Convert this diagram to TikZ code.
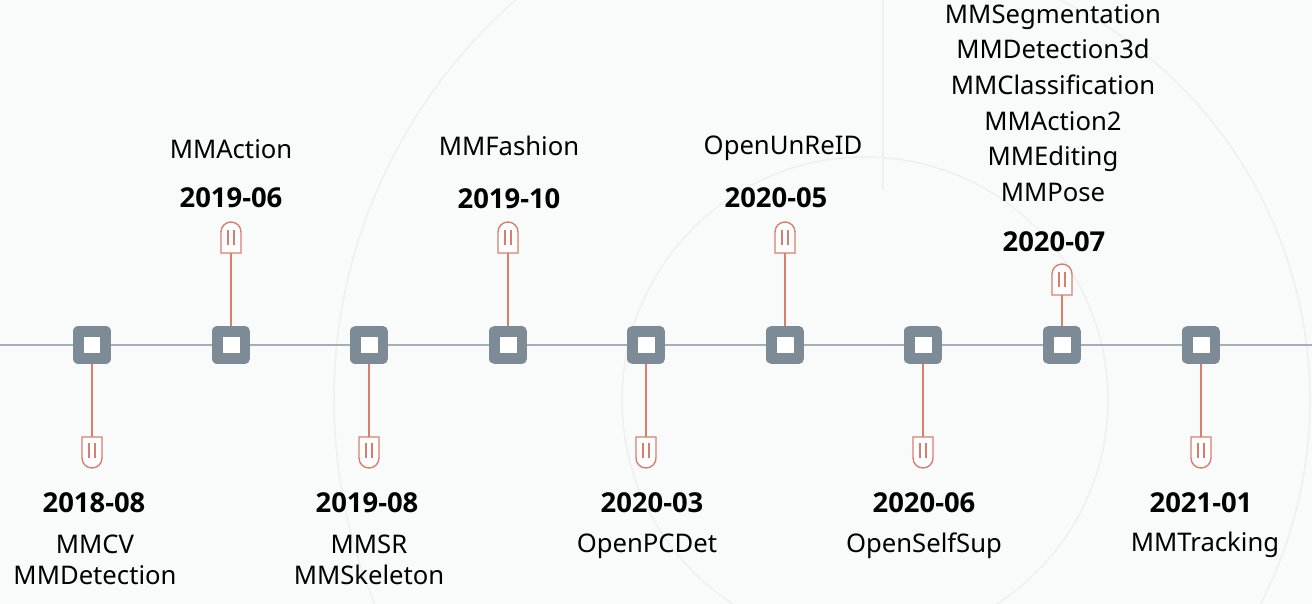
\documentclass[tikz,border=0pt]{standalone}
\usepackage{fontspec}
\setmainfont{Noto Sans}[BoldFont={Open Sans Bold}]
\usetikzlibrary{positioning}

\definecolor{bgcol}{RGB}{248,251,249}
\definecolor{ringcol}{RGB}{238,241,239}
\definecolor{axiscol}{RGB}{162,176,190}
\definecolor{boxcol}{RGB}{125,139,150}
\definecolor{pincol}{RGB}{216,126,110}

\tikzset{
  pinup/.pic={
    \draw[pincol, line width=0.8pt, fill=white]
      (-0.2cm,0cm) -- (-0.2cm,0.42cm) arc[start angle=180, end angle=0, radius=0.2cm]
      -- (0.2cm,0cm) -- cycle;
    \draw[pincol, line width=0.7pt] (-0.06cm,0.16cm) -- (-0.06cm,0.46cm)
      (0.06cm,0.16cm) -- (0.06cm,0.46cm);
  },
  pindown/.pic={
    \draw[pincol, line width=0.8pt, fill=white]
      (-0.2cm,0cm) -- (-0.2cm,-0.42cm) arc[start angle=180, end angle=360, radius=0.2cm]
      -- (0.2cm,0cm) -- cycle;
    \draw[pincol, line width=0.7pt] (-0.06cm,-0.12cm) -- (-0.06cm,-0.42cm)
      (0.06cm,-0.12cm) -- (0.06cm,-0.42cm);
  }
}

\begin{document}
\begin{tikzpicture}
[x=0.02cm, y=-0.02cm, inner sep=0pt,
site/.style={draw=boxcol, fill=white, line width=0.21cm, line join=round, minimum size=0.55cm},
stem/.style={draw=pincol, line width=0.85pt},
ring/.style={draw=ringcol, line width=0.9pt},
date/.style={font=\fontsize{15.6}{18}\selectfont\bfseries},
proj/.style={align=center, font=\fontsize{14.6}{17.5}\selectfont}
]

% frame and faint background rings
\fill[bgcol] (0,0) rectangle (1312,604);
\useasboundingbox (0,0) rectangle (1312,604);
\begin{scope}
\clip (0,0) rectangle (1312,604);
\draw[ring] (865,400) circle[radius=243];
\draw[ring] (865,400) ++(-80:445) arc[start angle=-80, end angle=30, radius=445];
\draw[ring] (865,400) ++(-95:531) arc[start angle=-95, end angle=-250, radius=531];
\draw[ring] (883,0) -- (883,190);
\end{scope}

% time axis
\draw[axiscol, line width=0.6pt] (0,345) -- (1312,345);

% sites on the axis
\foreach \i/\x in {1/92,2/231,3/369,4/508,5/646,6/785,7/923,8/1062,9/1201}
  \node[site] (m\i) at (\x,345) {};

% pins below and above
\foreach \i/\x in {1/92,3/369,5/646,7/923,9/1201}
  \path (\x,437) coordinate (p\i) pic {pindown};
\foreach \i/\x/\y in {2/231/253,4/508/253,6/785/253,8/1062/295}
  \path (\x,\y) coordinate (p\i) pic {pinup};
\foreach \i in {1,...,9}
  \draw[stem] (m\i) -- (p\i);

% dates
\node[date] (d1) at (94,503) {2018-08};
\node[date] (d2) at (231,198) {2019-06};
\node[date] (d3) at (367,503) {2019-08};
\node[date] (d4) at (509,199) {2019-10};
\node[date] (d5) at (652,503) {2020-03};
\node[date] (d6) at (776,198) {2020-05};
\node[date] (d7) at (924,503) {2020-06};
\node[date] (d8) at (1054,242) {2020-07};
\node[date] (d9) at (1201,503) {2021-01};

% project names
\node[proj] (n1) at (95,560) {MMCV\\MMDetection};
\node[proj] (n2) at (231,149) {MMAction};
\node[proj] (n3) at (369,560) {MMSR\\MMSkeleton};
\node[proj] (n4) at (509,146) {MMFashion};
\node[proj] (n5) at (647,546) {OpenPCDet};
\node[proj] (n6) at (783,148) {OpenUnReID};
\node[proj] (n7) at (924,546) {OpenSelfSup};
\node[proj, font=\fontsize{14.6}{20.3}\selectfont] (n8) at (1053,103)
  {MMSegmentation\\MMDetection3d\\MMClassification\\MMAction2\\MMEditing\\MMPose};
\node[proj] (n9) at (1205,545) {MMTracking};

\end{tikzpicture}
\end{document}
